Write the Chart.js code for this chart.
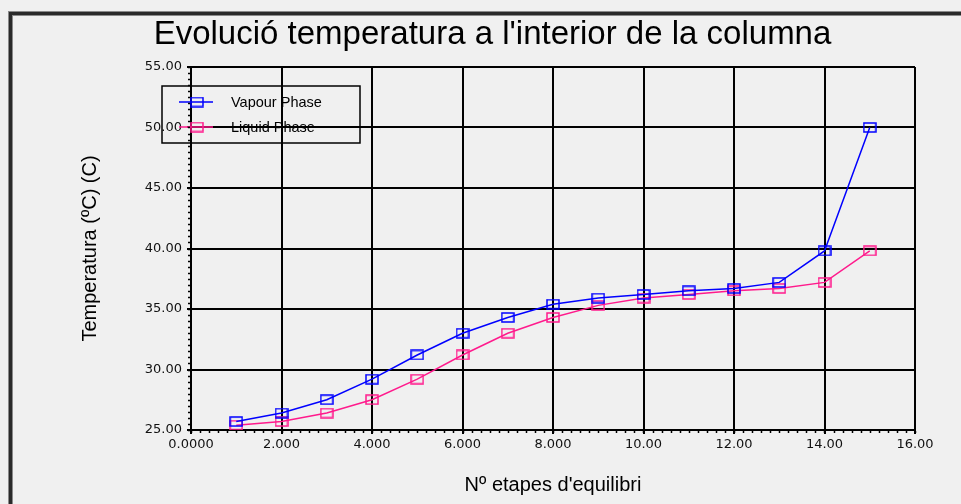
<!DOCTYPE html>
<html>
<head>
<meta charset="utf-8">
<script src="https://cdn.jsdelivr.net/npm/chart.js@4/dist/chart.umd.min.js"></script>
<style>
  body { margin: 0; background: #f0f0f0; }
  canvas { display: block; }
</style>
</head>
<body>
<canvas id="myChartTemperatura" width="961" height="504"></canvas>
<script>
const TITOL = "Evolució temperatura a l'interior de la columna"
const EIX_X = "Nº etapes d'equilibri"
const EIX_Y = "Temperatura (ºC) (C)"

const etapes = [1, 2, 3, 4, 5, 6, 7, 8, 9, 10, 11, 12, 13, 14, 15]
const vapourPhase = [25.7, 26.4, 27.5, 29.2, 31.2, 33.0, 34.3, 35.4, 35.9, 36.2, 36.5, 36.7, 37.2, 39.8, 50.0]
const liquidPhase = [25.4, 25.7, 26.4, 27.5, 29.2, 31.2, 33.0, 34.3, 35.3, 35.9, 36.2, 36.5, 36.7, 37.2, 39.8]
const seriesNames = ['Vapour Phase', 'Liquid Phase']
const seriesColors = ['#0000ff', '#ff1a8c']
const xTickLabels = ['0.0000', '2.000', '4.000', '6.000', '8.000', '10.00', '12.00', '14.00', '16.00']
const yTickLabels = ['25.00', '30.00', '35.00', '40.00', '45.00', '50.00', '55.00']

// quadradet buit per als punts
const quadrat = (color) => {
    const c = document.createElement('canvas')
    c.width = 14; c.height = 11
    const g = c.getContext('2d')
    g.strokeStyle = color
    g.lineWidth = 1.5
    g.strokeRect(1, 1, 12, 9)
    return c
}

const toPoints = (ys) => etapes.map((x, i) => ({ x: x, y: ys[i] }))

// marc de la finestra
const marc = {
    id: 'marc',
    afterLayout(chart) {
        // el titol va una mica desplaçat a la dreta
        chart.titleBlock.left += 58
    },
    beforeDraw(chart) {
        const ctx = chart.ctx
        ctx.save()
        ctx.fillStyle = '#f0f0f0'
        ctx.fillRect(0, 0, chart.width, chart.height)
        ctx.fillStyle = '#8a8a8a'
        ctx.fillRect(8, 11, chart.width, 5)
        ctx.fillRect(8, 11, 5, chart.height)
        ctx.fillStyle = '#2a2a2a'
        ctx.fillRect(9, 12, chart.width, 3)
        ctx.fillRect(9, 12, 3, chart.height)
        ctx.restore()
    }
}

// ticks petits als eixos
const minorTicks = {
    id: 'minorTicks',
    afterDraw(chart) {
        const ctx = chart.ctx
        const xs = chart.scales.x, ys = chart.scales.y
        const a = chart.chartArea
        ctx.save()
        ctx.strokeStyle = '#000'
        ctx.lineWidth = 1.5
        ctx.beginPath()
        for (let v = 0; v <= 16.001; v += 0.2) {
            const px = Math.round(xs.getPixelForValue(v)) + 0.5
            ctx.moveTo(px, a.bottom + 1)
            ctx.lineTo(px, a.bottom + 3)
        }
        for (let v = 25; v <= 55.001; v += 0.5) {
            const py = Math.round(ys.getPixelForValue(v)) + 0.5
            ctx.moveTo(a.left - 3, py)
            ctx.lineTo(a.left - 1, py)
        }
        ctx.stroke()
        ctx.restore()
    }
}

// llegenda dins el gràfic
const llegenda = {
    id: 'llegenda',
    beforeDatasetsDraw(chart) {
        const ctx = chart.ctx
        const a = chart.chartArea
        const x0 = a.left - 29, y0 = a.top + 19
        ctx.save()
        ctx.strokeStyle = '#000'
        ctx.lineWidth = 1.5
        ctx.strokeRect(x0, y0, 198, 57)
        ctx.font = '14.5px "Liberation Sans", Arial, sans-serif'
        ctx.textBaseline = 'middle'
        chart.data.datasets.forEach((ds, i) => {
            const y = y0 + 16 + i * 25
            ctx.strokeStyle = ds.borderColor
            ctx.lineWidth = 1.5
            ctx.beginPath()
            ctx.moveTo(x0 + 17, y)
            ctx.lineTo(x0 + 51, y)
            ctx.stroke()
            ctx.drawImage(ds.pointStyle, x0 + 35 - 7, y - 5.5)
            ctx.fillStyle = '#000'
            ctx.fillText(ds.label, x0 + 69, y + 1)
        })
        ctx.restore()
    }
}

var ctx = document.getElementById('myChartTemperatura')
var myChart = new Chart(ctx, {
    type: 'line',
    data: {
        datasets: [{
            label: seriesNames[0],
            data: toPoints(vapourPhase),
            borderColor: seriesColors[0],
            borderWidth: 1.5,
            pointStyle: quadrat(seriesColors[0]),
            pointRadius: 6
        }, {
            label: seriesNames[1],
            data: toPoints(liquidPhase),
            borderColor: seriesColors[1],
            borderWidth: 1.5,
            pointStyle: quadrat(seriesColors[1]),
            pointRadius: 6
        }]
    },
    options: {
        responsive: false,
        animation: false,
        devicePixelRatio: 1,
        layout: { padding: { left: 12, top: 12, right: 46, bottom: 0 } },
        plugins: {
            legend: { display: false },
            tooltip: { enabled: false },
            title: {
                display: true,
                text: TITOL,
                color: '#000',
                font: { family: '"Liberation Sans", Arial, sans-serif', size: 33, weight: 'normal', lineHeight: 1.2 },
                padding: { top: 3, bottom: 12.4 }
            }
        },
        scales: {
            x: {
                type: 'linear',
                min: 0, max: 16,
                afterFit: (scale) => { scale.height = 74 },
                afterBuildTicks: (scale) => {
                    scale.ticks = xTickLabels.map((t, i) => ({ value: i * 2 }))
                },
                ticks: {
                    color: '#111',
                    padding: 3,
                    maxRotation: 0,
                    autoSkip: false,
                    font: { family: '"DejaVu Sans", sans-serif', size: 13 },
                    callback: (v, i) => xTickLabels[i]
                },
                grid: { color: '#000', lineWidth: 2, tickLength: 4 },
                border: { color: '#000', width: 2 },
                title: {
                    display: true,
                    text: EIX_X,
                    color: '#000',
                    font: { family: '"Liberation Sans", Arial, sans-serif', size: 20, lineHeight: 1.2 },
                    padding: { top: 0, bottom: 7 }
                }
            },
            y: {
                min: 25, max: 55,
                afterFit: (scale) => { scale.width = 179 },
                afterBuildTicks: (scale) => {
                    scale.ticks = yTickLabels.map((t, i) => ({ value: 25 + i * 5 }))
                },
                ticks: {
                    color: '#111',
                    padding: 5,
                    autoSkip: false,
                    font: { family: '"DejaVu Sans", sans-serif', size: 13 },
                    callback: (v, i) => yTickLabels[i]
                },
                grid: { color: '#000', lineWidth: 2, tickLength: 4 },
                border: { color: '#000', width: 2 },
                title: {
                    display: true,
                    text: EIX_Y,
                    color: '#000',
                    font: { family: '"Liberation Sans", Arial, sans-serif', size: 20, lineHeight: 1.2 },
                    padding: { top: 66, bottom: 0 }
                }
            }
        }
    },
    plugins: [marc, llegenda, minorTicks]
})
</script>
</body>
</html>
